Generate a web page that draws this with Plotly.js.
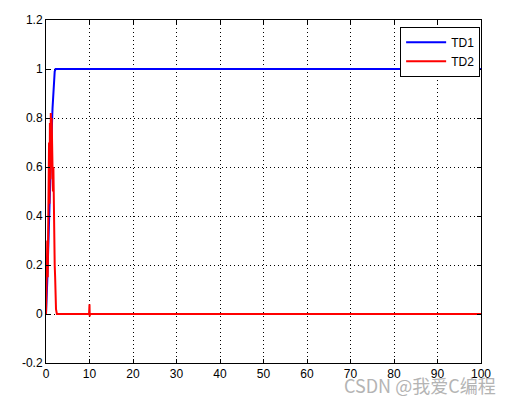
<!DOCTYPE html>
<html><head><meta charset="utf-8">
<script src="https://cdn.plot.ly/plotly-3.0.1.min.js"></script>
<style>body{margin:0;padding:0;background:#fff}#c{width:513px;height:401px}</style>
</head><body><div id="c"></div>
<script>
// TD1 (blue) samples
const td1X = [0,0.1,0.2,0.3,0.4,0.5,0.6,0.7,0.8,0.9,1.0,1.1,1.2,1.3,1.4,1.5,1.6,1.7,1.8,1.9,2.0,2.1,2.2,2.4,3,6,13,100];
const td1Y = [0,0.03,0.08,0.14,0.2,0.27,0.33,0.41,0.45,0.52,0.58,0.63,0.69,0.74,0.79,0.84,0.88,0.92,0.95,0.975,0.99,0.995,1.0,1.0,1.0,1.0,1.0,1.0];
// TD2 (red) samples
const td2X = [0,0.1,0.2,0.3,0.4,0.5,0.6,0.7,0.8,0.9,1.0,1.1,1.2,1.3,1.4,1.5,1.6,1.7,1.8,1.9,2.0,2.1,2.2,2.3,2.5,3,9.9,10.0,10.05,10.1,100];
const td2Y = [0,0.12,0.05,0.3,0.15,0.52,0.35,0.7,0.45,0.78,0.55,0.82,0.6,0.8,0.62,0.74,0.5,0.6,0.35,0.4,0.2,0.15,0.06,0.02,0.0,0.0,0.0,0.04,-0.01,0.0,0.0];
const xTicks = [0,10,20,30,40,50,60,70,80,90,100];
const yTicks = [-0.2,0,0.2,0.4,0.6,0.8,1,1.2];
const yTickText = ['-0.2','0','0.2','0.4','0.6','0.8','1','1.2'];

const traces = [
  {x: td1X, y: td1Y, type:'scatter', mode:'lines', name:'TD1', line:{color:'#0000ff', width:2}},
  {x: td2X, y: td2Y, type:'scatter', mode:'lines', name:'TD2', line:{color:'#ff0000', width:2}}
];
const axisCommon = {
  showline:true, mirror:'ticks', linecolor:'#000', linewidth:1,
  ticks:'inside', ticklen:4, tickcolor:'#000',
  showgrid:true, gridcolor:'#000', griddash:'1px,3px', gridwidth:1,
  zeroline:false, tickfont:{family:'Liberation Sans, Arial, sans-serif', size:12, color:'#000'}
};
const layout = {
  width:513, height:401,
  margin:{l:46, r:32, t:20, b:38},
  paper_bgcolor:'#fff', plot_bgcolor:'#fff',
  xaxis: Object.assign({}, axisCommon, {range:[0,100], tickvals:xTicks, ticktext:xTicks.map(String)}),
  yaxis: Object.assign({}, axisCommon, {range:[-0.2,1.2], tickvals:yTicks, ticktext:yTickText}),
  showlegend:true,
  legend:{x:0.998, y:0.98, xanchor:'right', yanchor:'top', bgcolor:'#fff', bordercolor:'#000', borderwidth:1,
          itemwidth:40, font:{family:'Liberation Sans, Arial, sans-serif', size:12, color:'#000'}, tracegroupgap:0},
  annotations:[{text:'CSDN @我爱C编程', xref:'paper', yref:'paper', x:1.04, y:-0.02, xanchor:'right', yanchor:'top',
    showarrow:false, font:{family:'Noto Sans CJK SC, sans-serif', size:18, color:'#b4b4b4'}}]
};
Plotly.newPlot('c', traces, layout, {displayModeBar:false, staticPlot:true});
</script></body></html>
